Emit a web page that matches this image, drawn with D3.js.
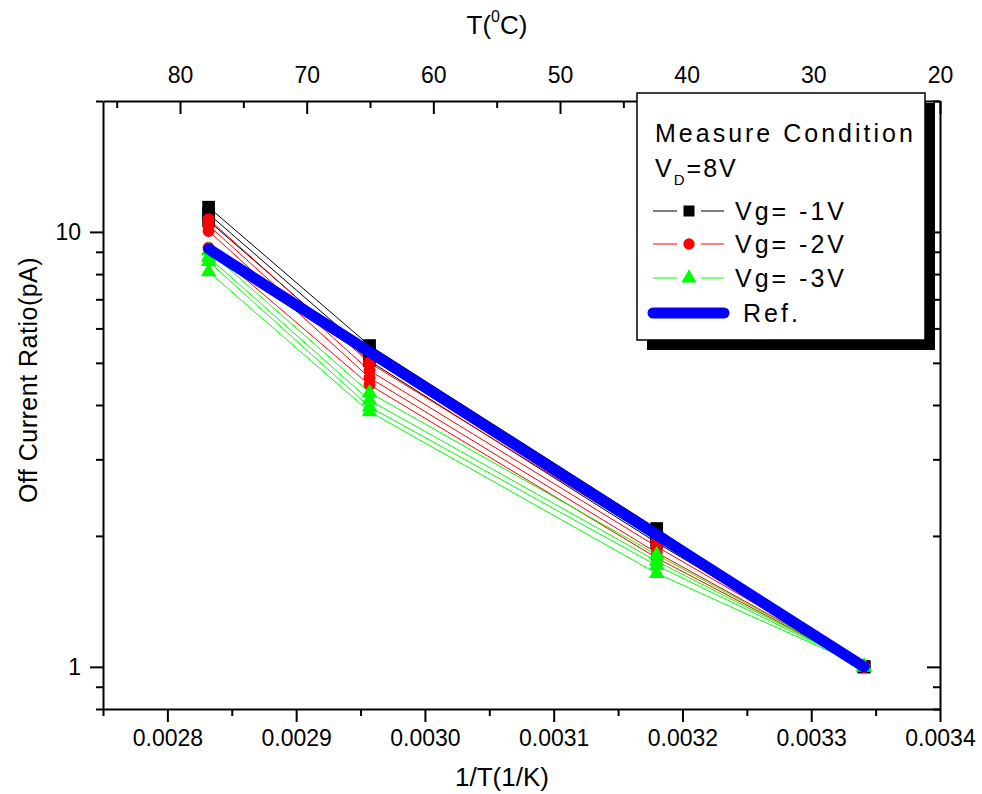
<!DOCTYPE html>
<html>
<head>
<meta charset="utf-8">
<script src="https://cdn.jsdelivr.net/npm/d3@7"></script>
<style>
  html, body { margin: 0; padding: 0; background: #fff; }
  svg { display: block; font-family: "Liberation Sans", Arial, sans-serif; }
  .axis path, .axis line { stroke: #000; stroke-width: 2; }
  .axis text { font-size: 23px; fill: #000; }
</style>
</head>
<body>
<svg id="chart" width="982" height="794"></svg>
<script>
// Measurement temperatures as 1/T (1/K)
const invT = [0.002832, 0.002957, 0.00318, 0.003341];

// Off-current ratio, normalised to the lowest-temperature value
const vg1Curves = [
  [11.4, 5.48, 2.08, 1],
  [11.0, 5.25, 1.99, 1],
  [10.6, 5.05, 1.93, 1]
];
const vg2Curves = [
  [10.7, 5.0, 1.96, 1],
  [10.35, 4.8, 1.89, 1],
  [10.05, 4.62, 1.83, 1],
  [9.2, 4.45, 1.78, 1]
];
const vg3Curves = [
  [9.05, 4.27, 1.81, 1],
  [8.75, 4.1, 1.75, 1],
  [8.55, 3.96, 1.71, 1],
  [8.1, 3.86, 1.64, 1]
];
const refValues = [9.14, 5.3, 2.01, 1];

// Axis ticks
const xMajorTicks = [0.0028, 0.0029, 0.0030, 0.0031, 0.0032, 0.0033, 0.0034];
const xMinorTicks = [0.00275, 0.00285, 0.00295, 0.00305, 0.00315, 0.00325, 0.00335];
const yMajorTicks = [1, 10];
const yMinorTicks = [0.8, 0.9, 2, 3, 4, 5, 6, 7, 8, 9, 20];
const tMajorTicks = [80, 70, 60, 50, 40, 30, 20];
const tMinorTicks = [85, 75, 65, 55, 45, 35, 25];

const legendItems = [
  { label: "Vg= -1V", color: "#000000", shape: d3.symbolSquare, size: 121 },
  { label: "Vg= -2V", color: "#ff0000", shape: d3.symbolCircle, size: 100 },
  { label: "Vg= -3V", color: "#00ff00", shape: d3.symbolTriangle, size: 100 }
];

const L = 103, R = 940, T = 101, B = 709;
const svg = d3.select("#chart");

const x = d3.scaleLinear().domain([0.00275, 0.0034]).range([L, R]);
const y = d3.scaleLog().domain([0.8, 20]).range([B, T]);
const tScale = d3.scaleLinear().domain([86.08, 20]).range([L, R]);

// Bottom axis (1/T)
svg.append("g").attr("class", "axis").attr("transform", `translate(0,${B})`)
  .call(d3.axisBottom(x).tickValues(xMajorTicks).tickFormat(d3.format(".4f"))
    .tickSizeInner(13).tickSizeOuter(0).tickPadding(8));
svg.append("g").attr("class", "axis").attr("transform", `translate(0,${B})`)
  .call(d3.axisBottom(x).tickValues(xMinorTicks).tickFormat("").tickSizeInner(7).tickSizeOuter(0))
  .select(".domain").remove();

// Top axis (temperature)
svg.append("g").attr("class", "axis").attr("transform", `translate(0,${T})`)
  .call(d3.axisTop(tScale).tickValues(tMajorTicks).tickFormat(d3.format("d"))
    .tickSizeInner(-13).tickSizeOuter(0).tickPadding(18));
svg.append("g").attr("class", "axis").attr("transform", `translate(0,${T})`)
  .call(d3.axisTop(tScale).tickValues(tMinorTicks).tickFormat("").tickSizeInner(-7).tickSizeOuter(0))
  .select(".domain").remove();

// Left axis (log)
svg.append("g").attr("class", "axis").attr("transform", `translate(${L},0)`)
  .call(d3.axisLeft(y).tickValues(yMajorTicks).tickFormat(d3.format("d"))
    .tickSizeInner(13).tickSizeOuter(0).tickPadding(9));
svg.append("g").attr("class", "axis").attr("transform", `translate(${L},0)`)
  .call(d3.axisLeft(y).tickValues(yMinorTicks).tickFormat("").tickSizeInner(7).tickSizeOuter(0))
  .select(".domain").remove();

// Right axis (inward ticks, no labels)
svg.append("g").attr("class", "axis").attr("transform", `translate(${R},0)`)
  .call(d3.axisRight(y).tickValues(yMajorTicks).tickFormat("").tickSizeInner(-13).tickSizeOuter(0));
svg.append("g").attr("class", "axis").attr("transform", `translate(${R},0)`)
  .call(d3.axisRight(y).tickValues(yMinorTicks).tickFormat("").tickSizeInner(-7).tickSizeOuter(0))
  .select(".domain").remove();

// Axis titles
svg.append("text").attr("x", 502).attr("y", 786).attr("text-anchor", "middle")
  .attr("font-size", 26).text("1/T(1/K)");
const topTitle = svg.append("text").attr("x", 497).attr("y", 34).attr("text-anchor", "middle")
  .attr("font-size", 26);
topTitle.append("tspan").text("T(");
topTitle.append("tspan").attr("font-size", 16).attr("dy", -12).text("0");
topTitle.append("tspan").attr("dy", 12).text("C)");
svg.append("text").attr("transform", "translate(37,380) rotate(-90)").attr("text-anchor", "middle")
  .attr("font-size", 25).attr("letter-spacing", 0.5).text("Off Current Ratio(pA)");

// Data curves
const line = d3.line().x((d, i) => x(invT[i])).y(d => y(d));
const groups = [
  { curves: vg1Curves, item: legendItems[0], size: 161 },
  { curves: vg2Curves, item: legendItems[1], size: 113 },
  { curves: vg3Curves, item: legendItems[2], size: 105 }
];
groups.forEach(g => {
  g.curves.forEach(c => {
    svg.append("path").attr("d", line(c)).attr("fill", "none")
      .attr("stroke", g.item.color).attr("stroke-width", 1);
  });
  g.curves.forEach(c => {
    svg.selectAll(null).data(c).enter().append("path")
      .attr("d", d3.symbol().type(g.item.shape).size(g.size))
      .attr("transform", (d, i) => `translate(${x(invT[i])},${y(d)})`)
      .attr("fill", g.item.color);
  });
});

// Reference line
svg.append("path").attr("d", line(refValues)).attr("fill", "none")
  .attr("stroke", "#0000ff").attr("stroke-width", 11)
  .attr("stroke-linecap", "round").attr("stroke-linejoin", "round");

// Legend
const lg = svg.append("g");
lg.append("rect").attr("x", 647).attr("y", 103).attr("width", 288).attr("height", 247).attr("fill", "#000");
lg.append("rect").attr("x", 637).attr("y", 93).attr("width", 288).attr("height", 247)
  .attr("fill", "#fff").attr("stroke", "#000").attr("stroke-width", 1.5);
lg.append("text").attr("x", 655).attr("y", 142).attr("font-size", 25)
  .attr("letter-spacing", 3).text("Measure Condition");
const vd = lg.append("text").attr("x", 655).attr("y", 177).attr("font-size", 25).attr("letter-spacing", 2);
vd.append("tspan").text("V");
vd.append("tspan").attr("font-size", 15).attr("dy", 8).text("D");
vd.append("tspan").attr("dy", -8).text("=8V");
const rowY = [211, 244, 278];
legendItems.forEach((it, i) => {
  const yy = rowY[i];
  lg.append("line").attr("x1", 653).attr("x2", 677).attr("y1", yy).attr("y2", yy)
    .attr("stroke", it.color).attr("stroke-width", 1);
  lg.append("line").attr("x1", 701).attr("x2", 724).attr("y1", yy).attr("y2", yy)
    .attr("stroke", it.color).attr("stroke-width", 1);
  lg.append("path").attr("d", d3.symbol().type(it.shape).size(it.size))
    .attr("transform", `translate(689,${yy})`).attr("fill", it.color);
  lg.append("text").attr("x", 735).attr("y", yy + 9).attr("font-size", 25)
    .attr("letter-spacing", 3).text(it.label);
});
lg.append("line").attr("x1", 653).attr("x2", 724).attr("y1", 313).attr("y2", 313)
  .attr("stroke", "#0000ff").attr("stroke-width", 11).attr("stroke-linecap", "round");
lg.append("text").attr("x", 743).attr("y", 322).attr("font-size", 25)
  .attr("letter-spacing", 3).text("Ref.");
</script>
</body>
</html>
